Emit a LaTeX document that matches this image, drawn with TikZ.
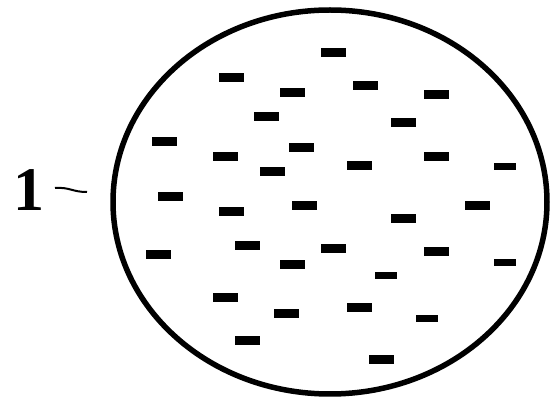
\documentclass[tikz,border=0pt]{standalone}
\usepackage{fontspec}
\setmainfont{Liberation Serif}
\begin{document}
\begin{tikzpicture}[x=1pt,y=-1pt,
  dashmark/.style={fill=black,minimum width=25pt,minimum height=9pt,inner sep=0pt,rectangle},
  smalldash/.style={fill=black,minimum width=22pt,minimum height=7pt,inner sep=0pt,rectangle},
  rim/.style={line width=5.5pt},
  lbl/.style={font=\fontsize{62}{62}\selectfont\bfseries,inner sep=0pt}]
\useasboundingbox (0,0) rectangle (550,403);
\fill[white] (0,0) rectangle (550,403);
\draw[rim] (330,202) ellipse [x radius=217, y radius=192];
\node[lbl] (one) at (29,190) {1};
\coordinate (tA) at (55,188);
\coordinate (tB) at (87,192);
\draw[line width=2pt] (tA) .. controls (70,187) and (72,192) .. (tB);
\foreach \p/\x/\y in {a/333/53,b/231/78,c/292/93,d/365/86,e/436/95,f/266/117,g/403/123,
  h/164/142,i/225/157,j/301/148,k/272/172,l/359/166,m/436/157,
  o/170/197,p/231/212,q/304/206,r/403/219,s/477/206,
  t/158/255,u/247/246,v/292/265,w/333/249,x/436/252,
  y/225/298,z/286/314,aa/359/308,ab/247/341,ac/381/360}
  \node[dashmark] (d\p) at (\x,\y) {};
\foreach \p/\x/\y in {ba/505/167,bb/505/263,bc/386/276,bd/427/319}
  \node[smalldash] (d\p) at (\x,\y) {};
\end{tikzpicture}
\end{document}
